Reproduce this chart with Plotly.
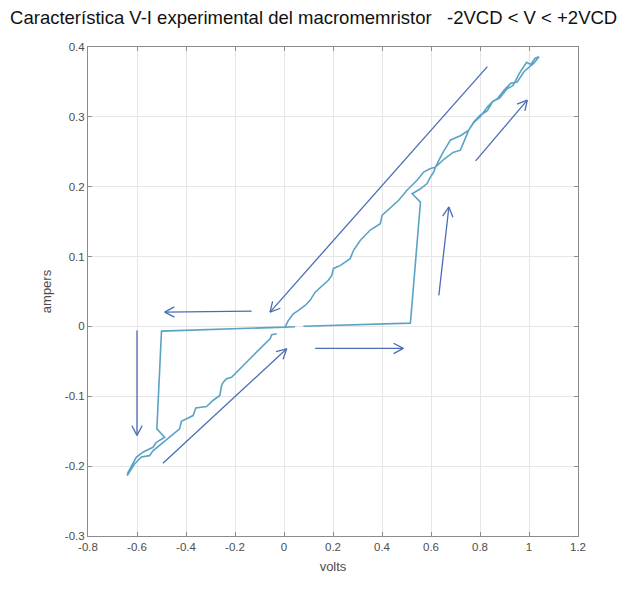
import math
import plotly.graph_objects as go

# Measured V-I loop of the macromemristor (volts, amperes), in sweep order.
loop_volts = [
    0.079, 0.516, 0.557, 0.523, 0.557, 0.584, 0.598,
    0.611, 0.618, 0.655, 0.690, 0.720, 0.754, 0.775, 0.800, 0.830, 0.852,
    0.871, 0.898, 0.925, 0.952, 0.980, 1.020, 1.041,
    1.025, 1.007, 0.990, 0.960, 0.935, 0.910, 0.880, 0.852, 0.830, 0.800,
    0.775, 0.754, 0.720, 0.680, 0.650, 0.618, 0.598, 0.570, 0.543, 0.502,
    0.468, 0.413, 0.400, 0.393, 0.352, 0.311, 0.284, 0.270, 0.229, 0.202,
    0.195, 0.181, 0.147, 0.127, 0.106, 0.086, 0.059, 0.038, 0.018, 0.004,
    -0.500, -0.519, -0.487, -0.521, -0.535, -0.576, -0.603, -0.637, -0.640,
    -0.610, -0.582, -0.549, -0.535, -0.501, -0.480, -0.426, -0.419, -0.371,
    -0.360, -0.316, -0.290, -0.262, -0.255, -0.248, -0.2345, -0.214, -0.153,
    -0.057, -0.050, -0.030,
    None, 0.004, 0.045,
]
loop_amps = [
    0.0003, 0.0047, 0.178, 0.190, 0.197, 0.2046, 0.214,
    0.221, 0.228, 0.240, 0.249, 0.2523, 0.281, 0.292, 0.300, 0.314, 0.322,
    0.326, 0.338, 0.348, 0.350, 0.365, 0.377, 0.386,
    0.384, 0.375, 0.378, 0.362, 0.345, 0.340, 0.327, 0.322, 0.309, 0.302,
    0.293, 0.281, 0.273, 0.267, 0.250, 0.228, 0.226, 0.221, 0.2093, 0.195,
    0.1806, 0.164, 0.159, 0.147, 0.138, 0.123, 0.109, 0.097, 0.087, 0.083,
    0.073, 0.066, 0.056, 0.049, 0.037, 0.030, 0.023, 0.018, 0.0086, -0.0010,
    -0.0067, -0.1467, -0.1587, -0.1659, -0.173, -0.180, -0.1874, -0.209, -0.2136,
    -0.197, -0.187, -0.185, -0.178, -0.168, -0.162, -0.1467, -0.1358, -0.1276,
    -0.1166, -0.1147, -0.106, -0.0989, -0.0846, -0.0799, -0.075, -0.0727, -0.0512,
    -0.0176, -0.0119, -0.0105,
    None, -0.0010, -0.0005,
]

# Hand-drawn sweep-direction arrows: tail -> head (volts, amperes).
arrow_tail_v = [0.830, -0.132, -0.600, -0.494, 0.127, 0.632, 0.782]
arrow_tail_i = [0.372, 0.022, -0.0057, -0.196, -0.0315, 0.0445, 0.237]
arrow_head_v = [-0.057, -0.487, -0.600, 0.011, 0.487, 0.673, 0.993]
arrow_head_i = [0.0205, 0.0205, -0.156, -0.032, -0.0315, 0.171, 0.324]

x_ticks = [-0.8, -0.6, -0.4, -0.2, 0, 0.2, 0.4, 0.6, 0.8, 1, 1.2]
x_labels = ["-0.8", "-0.6", "-0.4", "-0.2", "0", "0.2", "0.4", "0.6", "0.8", "1", "1.2"]
y_ticks = [-0.3, -0.2, -0.1, 0, 0.1, 0.2, 0.3, 0.4]
y_labels = ["-0.3", "-0.2", "-0.1", "0", "0.1", "0.2", "0.3", "0.4"]

W, H = 631, 599
M = dict(l=88, r=53, t=47, b=63)
x_range = [-0.8, 1.2]
y_range = [-0.3, 0.4]

curve_color = "#5ba3c4"
arrow_color = "#4a6db5"
axis_color = "#8c8c8c"
text_color = "#4d4d4d"

# pixel scale of the plotting area, used to shape the open arrowheads
px_per_v = (W - M["l"] - M["r"]) / (x_range[1] - x_range[0])
px_per_i = (H - M["t"] - M["b"]) / (y_range[1] - y_range[0])

fig = go.Figure()

fig.add_trace(go.Scatter(
    x=loop_volts, y=loop_amps, mode="lines",
    line=dict(color=curve_color, width=1.6),
    connectgaps=False, hoverinfo="skip", showlegend=False,
))

head_len, head_ang = 11.0, math.radians(28)
ax_x, ax_y = [], []
for tv, ti, hv, hi in zip(arrow_tail_v, arrow_tail_i, arrow_head_v, arrow_head_i):
    ax_x += [tv, hv, None]
    ax_y += [ti, hi, None]
    dx = (hv - tv) * px_per_v
    dy = (hi - ti) * px_per_i
    ang = math.atan2(dy, dx)
    for s in (1, -1):
        a = ang + math.pi + s * head_ang
        ax_x += [hv, hv + head_len * math.cos(a) / px_per_v, None]
        ax_y += [hi, hi + head_len * math.sin(a) / px_per_i, None]

fig.add_trace(go.Scatter(
    x=ax_x, y=ax_y, mode="lines",
    line=dict(color=arrow_color, width=1.3),
    hoverinfo="skip", showlegend=False,
))

axis_common = dict(
    showgrid=True, gridcolor="#e6e6e6", gridwidth=1,
    zeroline=False, showline=True, linecolor=axis_color, linewidth=1,
    mirror="ticks", ticks="inside", ticklen=4, tickcolor=axis_color,
    tickfont=dict(family="Arial, Liberation Sans", size=11.5, color=text_color),
)

fig.update_layout(
    width=W, height=H, margin=M,
    paper_bgcolor="white", plot_bgcolor="white",
    title=dict(
        text="Característica V-I experimental del macromemristor\u00a0\u00a0\u00a0-2VCD < V < +2VCD",
        x=0.016, xanchor="left", xref="container",
        y=0.970, yanchor="middle", yref="container",
        font=dict(family="Arial, Liberation Sans", size=18.5, color="#111111"),
    ),
    xaxis=dict(range=x_range, tickvals=x_ticks, ticktext=x_labels,
               title=dict(text="volts", standoff=10,
                          font=dict(family="Arial, Liberation Sans", size=13, color=text_color)),
               **axis_common),
    yaxis=dict(range=y_range, tickvals=y_ticks, ticktext=y_labels,
               title=dict(text="ampers", standoff=10,
                          font=dict(family="Arial, Liberation Sans", size=13, color=text_color)),
               **axis_common),
)

fig.write_html("out.html")
